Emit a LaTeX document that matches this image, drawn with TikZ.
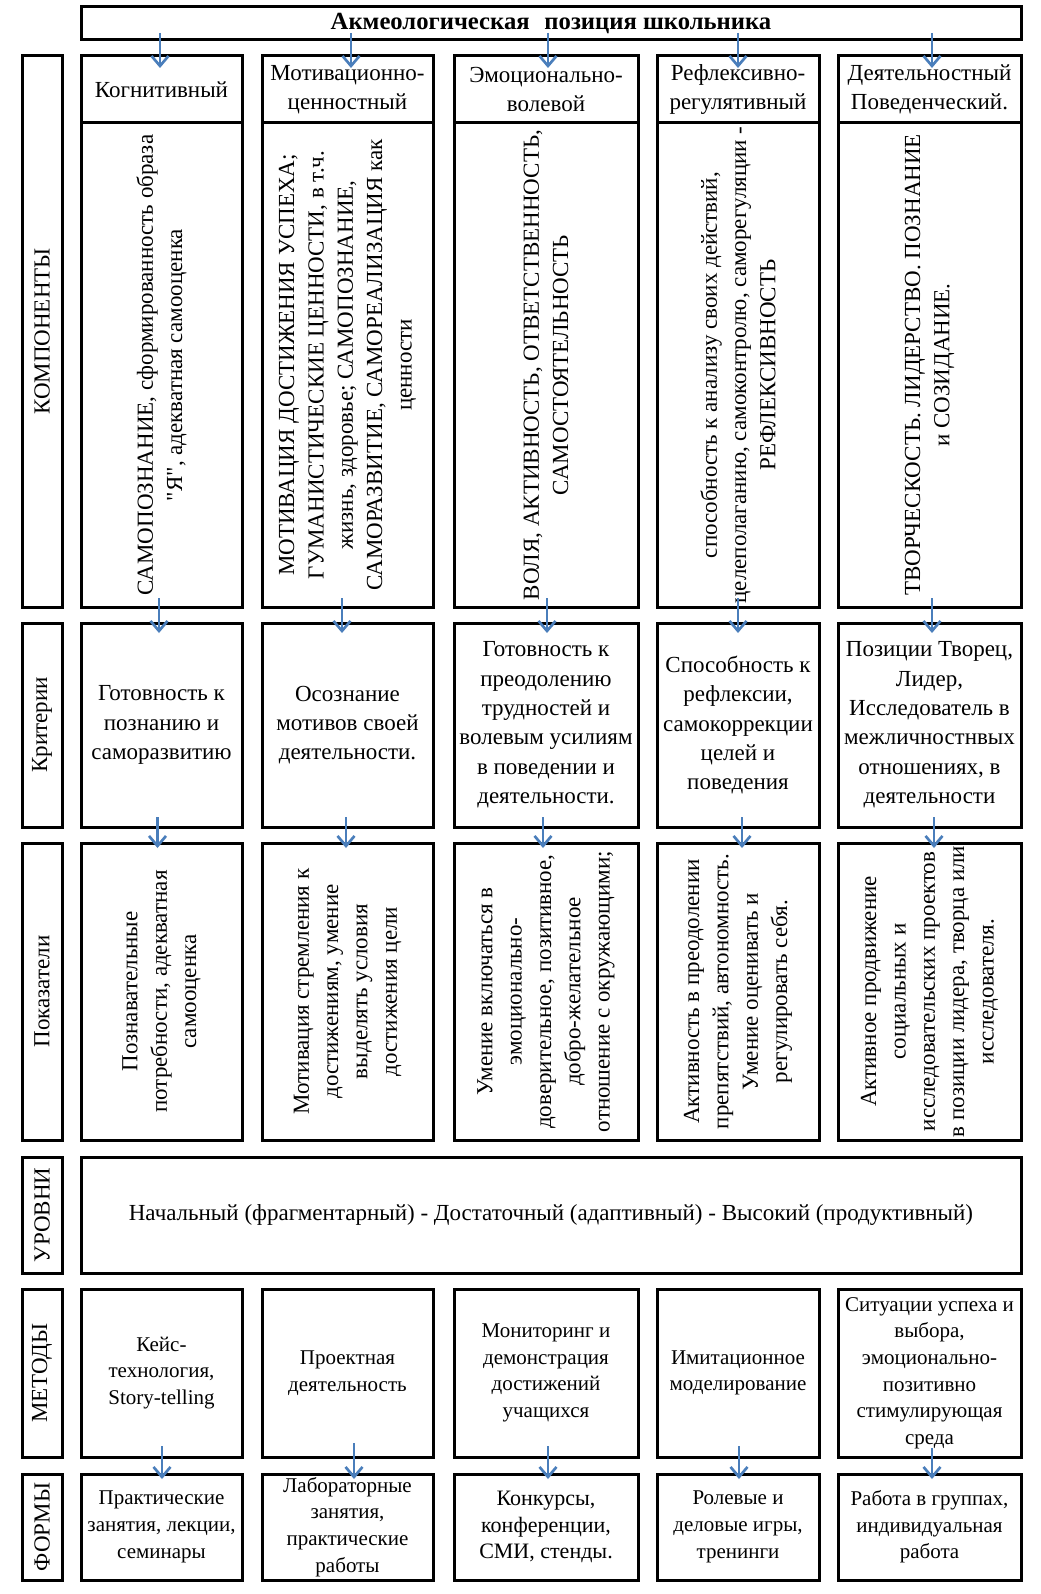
\documentclass[tikz,border=0pt]{standalone}
\usepackage{fontspec}
\setmainfont{Liberation Serif}
\usetikzlibrary{arrows.meta,calc}
\definecolor{arrblue}{RGB}{74,126,187}
\newcommand\fmain{\fontsize{17.25pt}{22pt}\selectfont}
\newcommand\ftitle{\fontsize{18.5pt}{22pt}\selectfont}
\newcommand\fmid{\fontsize{16.5pt}{20pt}\selectfont}
\newcommand\fsmall{\fontsize{15.75pt}{20pt}\selectfont}
\newcommand\sq{\XeTeXglyph\XeTeXcharglyph"22\relax}
\newcommand\mkbox[5]{%
  \pgfmathsetmacro\bw{(#4-#2)*0.75}%
  \pgfmathsetmacro\bh{(#5-#3)*0.75}%
  \node[box, minimum width=\bw pt, minimum height=\bh pt] (#1) at (#2,#3) {};}
\newcommand\arr[5]{\draw[arr] ($(#1.south -| #2.north)+(#3,-#4)$) -- ($(#2.north)+(#3,#5)$);}
\begin{document}
\begin{tikzpicture}[x=0.75pt,y=-0.75pt,
  box/.style={draw, line width=2.25pt, inner sep=0pt, outer sep=0pt, anchor=north west},
  txt/.style={inner sep=0pt, align=center, font=\fmain},
  vtxt/.style={txt, rotate=90},
  stxt/.style={inner sep=0pt, align=center, font=\fsmall},
  arr/.style={draw=arrblue, line width=2pt, -{Straight Barb[length=7.5pt,width=12.75pt,line width=2pt]}}
]
\path[use as bounding box, fill=white] (0,0) rectangle (1041,1594);

% title
\mkbox{title}{81}{7}{1021}{40}
\node[txt, font=\ftitle\bfseries] (tt) at (title) {Акмеологическая\hspace{0.35em} позиция школьника};

% left labels
\mkbox{lk}{22}{56}{62}{607}
\mkbox{lc}{22}{623}{62}{827}
\mkbox{li}{22}{843}{62}{1140}
\mkbox{ll}{22}{1157}{62}{1273}
\mkbox{lm}{22}{1289}{62}{1457}
\mkbox{lf}{22}{1474}{62}{1580}
\node[vtxt] (tlk) at (lk) {КОМПОНЕНТЫ};
\node[vtxt] (tlc) at (lc) {Критерии};
\node[vtxt] (tli) at (li) {Показатели};
\node[vtxt] (tll) at (ll) {УРОВНИ};
\node[vtxt] (tlm) at (lm) {МЕТОДЫ};
\node[vtxt] (tlf) at (lf) {ФОРМЫ};

% headers
\mkbox{h1}{81}{56}{242}{123}
\mkbox{h2}{262}{56}{433}{123}
\mkbox{h3}{454}{56}{638}{123}
\mkbox{h4}{657}{56}{819}{123}
\mkbox{h5}{838}{56}{1021}{123}
\node[txt] (th1) at (h1) {Когнитивный};
\node[txt] (th2) at (h2) {Мотивационно-\\ценностный};
\node[txt] (th3) at (h3) {Эмоционально-\\волевой};
\node[txt] (th4) at (h4) {Рефлексивно-\\регулятивный};
\node[txt] (th5) at (h5) {Деятельностный\\Поведенческий.};

% components
\mkbox{k1}{81}{123}{242}{607}
\mkbox{k2}{262}{123}{433}{607}
\mkbox{k3}{454}{123}{638}{607}
\mkbox{k4}{657}{123}{819}{607}
\mkbox{k5}{838}{123}{1021}{607}
\node[vtxt] (tk1) at (k1) {САМОПОЗНАНИЕ, сформированность образа\\\sq Я\sq, адекватная самооценка};
\node[vtxt] (tk2) at (k2) {МОТИВАЦИЯ ДОСТИЖЕНИЯ УСПЕХА;\\ГУМАНИСТИЧЕСКИЕ ЦЕННОСТИ, в т.ч.\\жизнь, здоровье; САМОПОЗНАНИЕ,\\САМОРАЗВИТИЕ, САМОРЕАЛИЗАЦИЯ как\\ценности};
\node[vtxt] (tk3) at (k3) {ВОЛЯ, АКТИВНОСТЬ, ОТВЕТСТВЕННОСТЬ,\\САМОСТОЯТЕЛЬНОСТЬ};
\node[vtxt] (tk4) at (k4) {способность к анализу своих действий,\\целеполаганию, самоконтролю, саморегуляции -\\РЕФЛЕКСИВНОСТЬ};
\node[vtxt] (tk5) at (k5) {ТВОРЧЕСКОСТЬ. ЛИДЕРСТВО. ПОЗНАНИЕ\\и СОЗИДАНИЕ.};

% criteria
\mkbox{c1}{81}{623}{242}{827}
\mkbox{c2}{262}{623}{433}{827}
\mkbox{c3}{454}{623}{638}{827}
\mkbox{c4}{657}{623}{819}{827}
\mkbox{c5}{838}{623}{1021}{827}
\node[txt] (tc1) at (c1) {Готовность к\\познанию и\\саморазвитию};
\node[txt] (tc2) at (c2) {Осознание\\мотивов своей\\деятельности.};
\node[txt] (tc3) at (c3) {Готовность к\\преодолению\\трудностей и\\волевым усилиям\\в поведении и\\деятельности.};
\node[txt] (tc4) at (c4) {Способность к\\рефлексии,\\самокоррекции\\целей и\\поведения};
\node[txt] (tc5) at (c5) {Позиции Творец,\\Лидер,\\Исследователь в\\межличностнвых\\отношениях, в\\деятельности};

% indicators
\mkbox{i1}{81}{843}{242}{1140}
\mkbox{i2}{262}{843}{433}{1140}
\mkbox{i3}{454}{843}{638}{1140}
\mkbox{i4}{657}{843}{819}{1140}
\mkbox{i5}{838}{843}{1021}{1140}
\node[vtxt] (ti1) at (i1) {Познавательные\\потребности, адекватная\\самооценка};
\node[vtxt] (ti2) at (i2) {Мотивация стремления к\\достижениям, умение\\выделять условия\\достижения цели};
\node[vtxt] (ti3) at (i3) {Умение включаться в\\эмоционально-\\доверительное, позитивное,\\добро-желательное\\отношение с окружающими;};
\node[vtxt] (ti4) at (i4) {Активность в преодолении\\препятствий, автономность.\\Умение оценивать и\\регулировать себя.};
\node[vtxt] (ti5) at (i5) {Активное продвижение\\социальных и\\исследовательских проектов\\в позиции лидера, творца или\\исследователя.};

% levels
\mkbox{lv}{81}{1157}{1021}{1273}
\node[txt] (tlv) at (lv) {Начальный (фрагментарный) - Достаточный (адаптивный) - Высокий (продуктивный)};

% methods
\mkbox{m1}{81}{1289}{242}{1457}
\mkbox{m2}{262}{1289}{433}{1457}
\mkbox{m3}{454}{1289}{638}{1457}
\mkbox{m4}{657}{1289}{819}{1457}
\mkbox{m5}{838}{1289}{1021}{1457}
\node[stxt] (tm1) at (m1) {Кейс-\\технология,\\Story-telling};
\node[stxt] (tm2) at (m2) {Проектная\\деятельность};
\node[stxt] (tm3) at (m3) {Мониторинг и\\демонстрация\\достижений\\учащихся};
\node[stxt] (tm4) at (m4) {Имитационное\\моделирование};
\node[stxt] (tm5) at (m5) {Ситуации успеха и\\выбора,\\эмоционально-\\позитивно\\стимулирующая\\среда};

% forms
\mkbox{f1}{81}{1474}{242}{1580}
\mkbox{f2}{262}{1474}{433}{1580}
\mkbox{f3}{454}{1474}{638}{1580}
\mkbox{f4}{657}{1474}{819}{1580}
\mkbox{f5}{838}{1474}{1021}{1580}
\node[stxt] (tf1) at (f1) {Практические\\занятия, лекции,\\семинары};
\node[stxt] (tf2) at (f2) {Лабораторные\\занятия,\\практические\\работы};
\node[stxt, font=\fmid] (tf3) at (f3) {Конкурсы,\\конференции,\\СМИ, стенды.};
\node[stxt] (tf4) at (f4) {Ролевые и\\деловые игры,\\тренинги};
\node[stxt] (tf5) at (f5) {Работа в группах,\\индивидуальная\\работа};

% arrows: title -> headers
\arr{title}{h1}{-1.5}{7}{12}
\arr{title}{h2}{3.5}{7}{12}
\arr{title}{h3}{2}{7}{12}
\arr{title}{h4}{0}{7}{12}
\arr{title}{h5}{2.5}{7}{12}
% components -> criteria
\arr{k1}{c1}{-2.5}{9}{10}
\arr{k2}{c2}{-5.5}{9}{10}
\arr{k3}{c3}{1}{9}{10}
\arr{k4}{c4}{0}{9}{10}
\arr{k5}{c5}{2.5}{9}{10}
% criteria -> indicators
\arr{c1}{i1}{-4}{10}{5}
\arr{c2}{i2}{-1.5}{10}{5}
\arr{c3}{i3}{-3}{10}{5}
\arr{c4}{i4}{4}{10}{5}
\arr{c5}{i5}{4.5}{10}{5}
% methods -> forms
\arr{m1}{f1}{0.5}{11}{5}
\arr{m2}{f2}{6.5}{14}{5}
\arr{m3}{f3}{2}{11}{5}
\arr{m4}{f4}{1}{11}{5}
\arr{m5}{f5}{2.5}{9}{5}
\end{tikzpicture}
\end{document}
